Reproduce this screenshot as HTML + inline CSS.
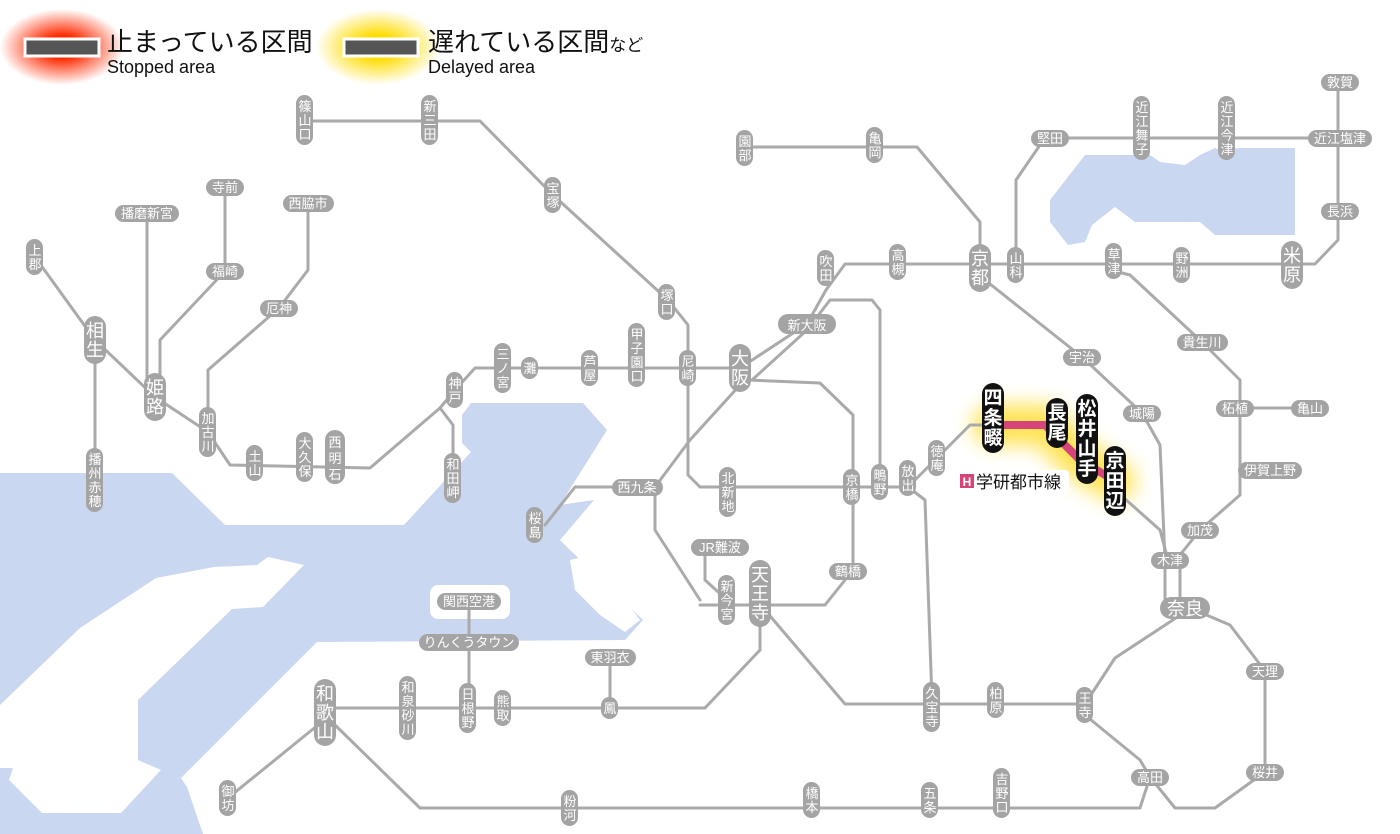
<!DOCTYPE html>
<html><head><meta charset="utf-8"><style>
html,body{margin:0;padding:0;background:#fff;}
svg{display:block;font-family:"Liberation Sans","Noto Sans CJK JP",sans-serif;}
.w{fill:#c9d7f0}
.l{fill:none;stroke:#aaa;stroke-width:3;stroke-linejoin:round;stroke-linecap:round}
.p{fill:#a4a4a4}
.t{fill:#fff;font-size:13px;text-anchor:middle}
.b{fill:#fff;font-size:18px;text-anchor:middle}
.k{fill:#111}
.kt{fill:#fff;font-size:19px;text-anchor:middle;font-weight:bold}
</style></head><body>
<svg width="1400" height="834" viewBox="0 0 1400 834" xmlns="http://www.w3.org/2000/svg">
<defs>
<radialGradient id="rg"><stop offset="0.3" stop-color="#ff2a00"/><stop offset="1" stop-color="#ff2a00" stop-opacity="0"/></radialGradient>
<radialGradient id="yg"><stop offset="0.3" stop-color="#ffdc00"/><stop offset="1" stop-color="#ffdc00" stop-opacity="0"/></radialGradient>
<filter id="bl" filterUnits="userSpaceOnUse" x="900" y="330" width="320" height="240"><feGaussianBlur stdDeviation="10"/></filter>
</defs>
<!-- water -->
<polygon class="w" points="0,473 172,473 225,525 404,525 471,452 462,443 462,415 471,403 583,403 607,430 560,505 594,500 560,540 567,547 643,620 625,640 317,642 181,778 187,787 203,834 0,834"/>
<polygon fill="#fff" points="304,565 268,557 257,565 214,567 156,578 80,628 0,705 0,768 13,768 9,780 42,813 121,813 161,770 138,760 138,700 232,609 263,607"/>
<polygon fill="#fff" points="570,560 590,555 640,620 625,632 600,615 575,590"/>
<rect x="430" y="585" width="80" height="34" rx="8" fill="#fff"/>
<polygon class="w" points="1085,155 1150,155 1160,162 1185,165 1200,155 1215,148 1220,150 1240,148 1295,148 1295,235 1215,235 1200,222 1135,222 1115,207 1092,225 1085,242 1068,245 1050,222 1050,200"/>
<!-- legend -->
<ellipse cx="62" cy="47" rx="62" ry="38" fill="url(#rg)"/>
<rect x="25" y="39" width="74" height="17" fill="#555" stroke="#fff" stroke-width="3"/>
<text x="107" y="51" font-size="26" fill="#111">止まっている区間</text>
<text x="107" y="73" font-size="18" fill="#111">Stopped area</text>
<ellipse cx="378" cy="47" rx="62" ry="38" fill="url(#yg)"/>
<rect x="344" y="39" width="74" height="17" fill="#555" stroke="#fff" stroke-width="3"/>
<text x="428" y="51" font-size="26" fill="#111">遅れている区間<tspan font-size="17">など</tspan></text>
<text x="428" y="73" font-size="18" fill="#111">Delayed area</text>
<!-- highlight glow -->
<polyline points="993,425 1045,425 1080,460 1115,481" fill="none" stroke="#ffe040" stroke-width="40" stroke-linejoin="round" stroke-linecap="round" filter="url(#bl)" opacity="0.9"/>
<!-- lines -->
<polyline class="l" points="305,121 480,121 553,195 668,300 688,325 688,475 700,487 908,487 925,500 932,700"/>
<polyline class="l" points="35,257 95,340 155,397 208,432 230,465 370,468 440,408 455,390 475,368 740,368"/>
<polyline class="l" points="440,408 453,425 453,478"/>
<polyline class="l" points="95,340 95,480"/>
<polyline class="l" points="147,213 147,397"/>
<polyline class="l" points="225,187 225,271 160,340 160,397"/>
<polyline class="l" points="308,203 308,270 279,308 208,370 208,432"/>
<polyline class="l" points="740,368 807,324 826,290 845,264 1315,264 1338,240 1338,82"/>
<polyline class="l" points="752,380 807,330 830,300 872,300 880,310 880,482"/>
<polyline class="l" points="745,147 917,147 980,222 980,268"/>
<polyline class="l" points="1016,265 1016,180 1040,145 1050,138 1340,138"/>
<polyline class="l" points="985,280 1082,357 1142,413 1160,445 1165,560 1165,600"/>
<polyline class="l" points="1118,272 1130,275 1202,342 1240,380 1240,495 1200,530 1180,555 1180,600"/>
<polyline class="l" points="1240,408 1310,408"/>
<polyline class="l" points="908,487 937,458 970,425 993,425"/>
<polyline class="l" points="1115,490 1160,530 1168,560"/>
<polyline class="l" points="748,380 820,383 853,415 853,570 825,605 700,605"/>
<polyline class="l" points="740,385 690,440 655,487 655,530 700,600"/>
<polyline class="l" points="655,487 575,487 545,525"/>
<polyline class="l" points="705,547 705,580 727,600"/>
<polyline class="l" points="760,610 760,650 705,708 325,708"/>
<polyline class="l" points="610,657 610,708"/>
<polyline class="l" points="469,601 469,708"/>
<polyline class="l" points="765,610 845,704 1085,704 1115,658 1185,612"/>
<polyline class="l" points="1085,715 1140,760 1150,777 1140,808 420,808 335,725"/>
<polyline class="l" points="1150,777 1175,808 1215,808 1265,772 1265,671 1230,625 1190,608"/>
<polyline class="l" points="318,725 228,798"/>
<!-- pink -->
<polyline points="993,425 1045,425 1080,460 1115,481" fill="none" stroke="#d6457a" stroke-width="8" stroke-linejoin="round"/>
<!-- small vertical stations -->
<g>
<rect class="p" x="296" y="95" width="17" height="50" rx="8.5"/><text class="t" x="305" y="111">篠</text><text class="t" x="305" y="125">山</text><text class="t" x="305" y="139">口</text>
<rect class="p" x="421" y="95" width="17" height="50" rx="8.5"/><text class="t" x="430" y="111">新</text><text class="t" x="430" y="125">三</text><text class="t" x="430" y="139">田</text>
<rect class="p" x="544" y="177" width="17" height="36" rx="8.5"/><text class="t" x="553" y="193">宝</text><text class="t" x="553" y="207">塚</text>
<rect class="p" x="658" y="284" width="17" height="36" rx="8.5"/><text class="t" x="667" y="300">塚</text><text class="t" x="667" y="314">口</text>
<rect class="p" x="679" y="350" width="17" height="36" rx="8.5"/><text class="t" x="688" y="366">尼</text><text class="t" x="688" y="380">崎</text>
<rect class="p" x="628" y="323" width="17" height="64" rx="8.5"/><text class="t" x="637" y="339">甲</text><text class="t" x="637" y="353">子</text><text class="t" x="637" y="367">園</text><text class="t" x="637" y="381">口</text>
<rect class="p" x="581" y="350" width="17" height="36" rx="8.5"/><text class="t" x="590" y="366">芦</text><text class="t" x="590" y="380">屋</text>
<rect class="p" x="521" y="357" width="17" height="22" rx="8.5"/><text class="t" x="530" y="373">灘</text>
<rect class="p" x="494" y="343" width="17" height="50" rx="8.5"/><text class="t" x="503" y="359">三</text><text class="t" x="503" y="373">ノ</text><text class="t" x="503" y="387">宮</text>
<rect class="p" x="446" y="372" width="17" height="36" rx="8.5"/><text class="t" x="455" y="388">神</text><text class="t" x="455" y="402">戸</text>
<rect class="p" x="444" y="453" width="17" height="50" rx="8.5"/><text class="t" x="453" y="469">和</text><text class="t" x="453" y="483">田</text><text class="t" x="453" y="497">岬</text>
<rect class="p" x="325" y="430" width="20" height="54" rx="10"/><text class="t" x="335" y="447" font-size="15">西</text><text class="t" x="335" y="463" font-size="15">明</text><text class="t" x="335" y="479" font-size="15">石</text>
<rect class="p" x="296" y="432" width="17" height="50" rx="8.5"/><text class="t" x="305" y="448">大</text><text class="t" x="305" y="462">久</text><text class="t" x="305" y="476">保</text>
<rect class="p" x="246" y="445" width="17" height="36" rx="8.5"/><text class="t" x="255" y="461">土</text><text class="t" x="255" y="475">山</text>
<rect class="p" x="199" y="407" width="17" height="50" rx="8.5"/><text class="t" x="208" y="423">加</text><text class="t" x="208" y="437">古</text><text class="t" x="208" y="451">川</text>
<rect class="p" x="26" y="239" width="17" height="36" rx="8.5"/><text class="t" x="35" y="255">上</text><text class="t" x="35" y="269">郡</text>
<rect class="p" x="86" y="448" width="17" height="64" rx="8.5"/><text class="t" x="95" y="464">播</text><text class="t" x="95" y="478">州</text><text class="t" x="95" y="492">赤</text><text class="t" x="95" y="506">穂</text>
<rect class="p" x="526" y="507" width="17" height="36" rx="8.5"/><text class="t" x="535" y="523">桜</text><text class="t" x="535" y="537">島</text>
<rect class="p" x="719" y="467" width="17" height="50" rx="8.5"/><text class="t" x="728" y="483">北</text><text class="t" x="728" y="497">新</text><text class="t" x="728" y="511">地</text>
<rect class="p" x="843" y="469" width="17" height="36" rx="8.5"/><text class="t" x="852" y="485">京</text><text class="t" x="852" y="499">橋</text>
<rect class="p" x="871" y="464" width="17" height="36" rx="8.5"/><text class="t" x="880" y="480">鴫</text><text class="t" x="880" y="494">野</text>
<rect class="p" x="899" y="460" width="17" height="36" rx="8.5"/><text class="t" x="908" y="476">放</text><text class="t" x="908" y="490">出</text>
<rect class="p" x="928" y="440" width="17" height="36" rx="8.5"/><text class="t" x="937" y="456">徳</text><text class="t" x="937" y="470">庵</text>
<rect class="p" x="718" y="575" width="17" height="50" rx="8.5"/><text class="t" x="727" y="591">新</text><text class="t" x="727" y="605">今</text><text class="t" x="727" y="619">宮</text>
<rect class="p" x="817" y="250" width="17" height="36" rx="8.5"/><text class="t" x="826" y="266">吹</text><text class="t" x="826" y="280">田</text>
<rect class="p" x="889" y="244" width="17" height="36" rx="8.5"/><text class="t" x="898" y="260">高</text><text class="t" x="898" y="274">槻</text>
<rect class="p" x="1007" y="247" width="17" height="36" rx="8.5"/><text class="t" x="1016" y="263">山</text><text class="t" x="1016" y="277">科</text>
<rect class="p" x="866" y="127" width="17" height="36" rx="8.5"/><text class="t" x="875" y="143">亀</text><text class="t" x="875" y="157">岡</text>
<rect class="p" x="736" y="130" width="17" height="36" rx="8.5"/><text class="t" x="745" y="146">園</text><text class="t" x="745" y="160">部</text>
<rect class="p" x="1133" y="96" width="17" height="64" rx="8.5"/><text class="t" x="1142" y="112">近</text><text class="t" x="1142" y="126">江</text><text class="t" x="1142" y="140">舞</text><text class="t" x="1142" y="154">子</text>
<rect class="p" x="1218" y="96" width="17" height="64" rx="8.5"/><text class="t" x="1227" y="112">近</text><text class="t" x="1227" y="126">江</text><text class="t" x="1227" y="140">今</text><text class="t" x="1227" y="154">津</text>
<rect class="p" x="1173" y="247" width="17" height="36" rx="8.5"/><text class="t" x="1182" y="263">野</text><text class="t" x="1182" y="277">洲</text>
<rect class="p" x="1105" y="243" width="17" height="36" rx="8.5"/><text class="t" x="1114" y="259">草</text><text class="t" x="1114" y="273">津</text>
<rect class="p" x="1076" y="687" width="17" height="36" rx="8.5"/><text class="t" x="1085" y="703">王</text><text class="t" x="1085" y="717">寺</text>
<rect class="p" x="987" y="682" width="17" height="36" rx="8.5"/><text class="t" x="996" y="698">柏</text><text class="t" x="996" y="712">原</text>
<rect class="p" x="923" y="682" width="17" height="50" rx="8.5"/><text class="t" x="932" y="698">久</text><text class="t" x="932" y="712">宝</text><text class="t" x="932" y="726">寺</text>
<rect class="p" x="601" y="697" width="17" height="22" rx="8.5"/><text class="t" x="610" y="713">鳳</text>
<rect class="p" x="494" y="690" width="17" height="36" rx="8.5"/><text class="t" x="503" y="706">熊</text><text class="t" x="503" y="720">取</text>
<rect class="p" x="459" y="683" width="17" height="50" rx="8.5"/><text class="t" x="468" y="699">日</text><text class="t" x="468" y="713">根</text><text class="t" x="468" y="727">野</text>
<rect class="p" x="399" y="676" width="17" height="64" rx="8.5"/><text class="t" x="408" y="692">和</text><text class="t" x="408" y="706">泉</text><text class="t" x="408" y="720">砂</text><text class="t" x="408" y="734">川</text>
<rect class="p" x="219" y="780" width="17" height="36" rx="8.5"/><text class="t" x="228" y="796">御</text><text class="t" x="228" y="810">坊</text>
<rect class="p" x="561" y="790" width="17" height="36" rx="8.5"/><text class="t" x="570" y="806">粉</text><text class="t" x="570" y="820">河</text>
<rect class="p" x="803" y="782" width="17" height="36" rx="8.5"/><text class="t" x="812" y="798">橋</text><text class="t" x="812" y="812">本</text>
<rect class="p" x="921" y="782" width="17" height="36" rx="8.5"/><text class="t" x="930" y="798">五</text><text class="t" x="930" y="812">条</text>
<rect class="p" x="993" y="768" width="17" height="50" rx="8.5"/><text class="t" x="1002" y="784">吉</text><text class="t" x="1002" y="798">野</text><text class="t" x="1002" y="812">口</text>
</g>
<!-- big vertical -->
<g>
<rect class="p" x="144" y="373" width="22" height="48" rx="11"/><text class="b" x="155" y="394">姫</text><text class="b" x="155" y="413">路</text>
<rect class="p" x="84" y="316" width="22" height="48" rx="11"/><text class="b" x="95" y="337">相</text><text class="b" x="95" y="356">生</text>
<rect class="p" x="729" y="344" width="22" height="48" rx="11"/><text class="b" x="740" y="365">大</text><text class="b" x="740" y="384">阪</text>
<rect class="p" x="969" y="244" width="22" height="48" rx="11"/><text class="b" x="980" y="265">京</text><text class="b" x="980" y="284">都</text>
<rect class="p" x="1281" y="241" width="22" height="48" rx="11"/><text class="b" x="1292" y="262">米</text><text class="b" x="1292" y="281">原</text>
<rect class="p" x="749" y="560" width="22" height="67" rx="11"/><text class="b" x="760" y="581">天</text><text class="b" x="760" y="600">王</text><text class="b" x="760" y="619">寺</text>
<rect class="p" x="314" y="679" width="22" height="67" rx="11"/><text class="b" x="325" y="700">和</text><text class="b" x="325" y="719">歌</text><text class="b" x="325" y="738">山</text>
</g>
<!-- horizontal -->
<g>
<rect class="p" x="115" y="205" width="64" height="17" rx="8.5"/><text class="t" x="147" y="218">播磨新宮</text>
<rect class="p" x="206" y="179" width="38" height="17" rx="8.5"/><text class="t" x="225" y="192">寺前</text>
<rect class="p" x="206" y="263" width="38" height="17" rx="8.5"/><text class="t" x="225" y="276">福崎</text>
<rect class="p" x="283" y="195" width="51" height="17" rx="8.5"/><text class="t" x="308" y="208">西脇市</text>
<rect class="p" x="260" y="300" width="38" height="17" rx="8.5"/><text class="t" x="279" y="313">厄神</text>
<rect class="p" x="612" y="479" width="51" height="17" rx="8.5"/><text class="t" x="637" y="492">西九条</text>
<rect class="p" x="691" y="539" width="58" height="17" rx="8.5"/><text class="t" x="720" y="552">JR難波</text>
<rect class="p" x="829" y="563" width="38" height="17" rx="8.5"/><text class="t" x="848" y="576">鶴橋</text>
<rect class="p" x="778" y="314" width="58" height="20" rx="10"/><text class="t" x="807" y="330" font-size="15">新大阪</text>
<rect class="p" x="1031" y="130" width="38" height="17" rx="8.5"/><text class="t" x="1050" y="143">堅田</text>
<rect class="p" x="1308" y="130" width="64" height="17" rx="8.5"/><text class="t" x="1340" y="143">近江塩津</text>
<rect class="p" x="1321" y="74" width="38" height="17" rx="8.5"/><text class="t" x="1340" y="87">敦賀</text>
<rect class="p" x="1321" y="203" width="38" height="17" rx="8.5"/><text class="t" x="1340" y="216">長浜</text>
<rect class="p" x="1063" y="349" width="38" height="17" rx="8.5"/><text class="t" x="1082" y="362">宇治</text>
<rect class="p" x="1177" y="334" width="51" height="17" rx="8.5"/><text class="t" x="1202" y="347">貴生川</text>
<rect class="p" x="1123" y="405" width="38" height="17" rx="8.5"/><text class="t" x="1142" y="418">城陽</text>
<rect class="p" x="1216" y="400" width="38" height="17" rx="8.5"/><text class="t" x="1235" y="413">柘植</text>
<rect class="p" x="1291" y="400" width="38" height="17" rx="8.5"/><text class="t" x="1310" y="413">亀山</text>
<rect class="p" x="1238" y="462" width="64" height="17" rx="8.5"/><text class="t" x="1270" y="475">伊賀上野</text>
<rect class="p" x="1181" y="522" width="38" height="17" rx="8.5"/><text class="t" x="1200" y="535">加茂</text>
<rect class="p" x="1151" y="552" width="38" height="17" rx="8.5"/><text class="t" x="1170" y="565">木津</text>
<rect class="p" x="1160" y="597" width="50" height="22" rx="11"/><text class="b" x="1185" y="615">奈良</text>
<rect class="p" x="1246" y="663" width="38" height="17" rx="8.5"/><text class="t" x="1265" y="676">天理</text>
<rect class="p" x="1246" y="764" width="38" height="17" rx="8.5"/><text class="t" x="1265" y="777">桜井</text>
<rect class="p" x="1131" y="769" width="38" height="17" rx="8.5"/><text class="t" x="1150" y="782">高田</text>
<rect class="p" x="585" y="649" width="51" height="17" rx="8.5"/><text class="t" x="610" y="662">東羽衣</text>
<rect class="p" x="437" y="593" width="64" height="17" rx="8.5"/><text class="t" x="469" y="606">関西空港</text>
<rect class="p" x="419" y="634" width="100" height="17" rx="8.5"/><text class="t" x="469" y="647">りんくうタウン</text>
</g>
<!-- highlighted black -->
<g>
<rect class="k" x="982" y="383" width="22" height="70" rx="11"/><text class="kt" x="993" y="404">四</text><text class="kt" x="993" y="424">条</text><text class="kt" x="993" y="444">畷</text>
<rect class="k" x="1046" y="398" width="22" height="50" rx="11"/><text class="kt" x="1057" y="419">長</text><text class="kt" x="1057" y="439">尾</text>
<rect class="k" x="1076" y="394" width="22" height="90" rx="11"/><text class="kt" x="1087" y="415">松</text><text class="kt" x="1087" y="435">井</text><text class="kt" x="1087" y="455">山</text><text class="kt" x="1087" y="475">手</text>
<rect class="k" x="1104" y="446" width="22" height="70" rx="11"/><text class="kt" x="1115" y="467">京</text><text class="kt" x="1115" y="487">田</text><text class="kt" x="1115" y="507">辺</text>
</g>
<rect x="955" y="470" width="114" height="22" rx="4" fill="#fff"/>
<rect x="960" y="474" width="14" height="14" fill="#d6457a"/>
<text x="967" y="486" fill="#fff" font-size="12" font-weight="bold" text-anchor="middle">H</text>
<text x="976" y="488" fill="#111" font-size="17">学研都市線</text>
</svg>
</body></html>
